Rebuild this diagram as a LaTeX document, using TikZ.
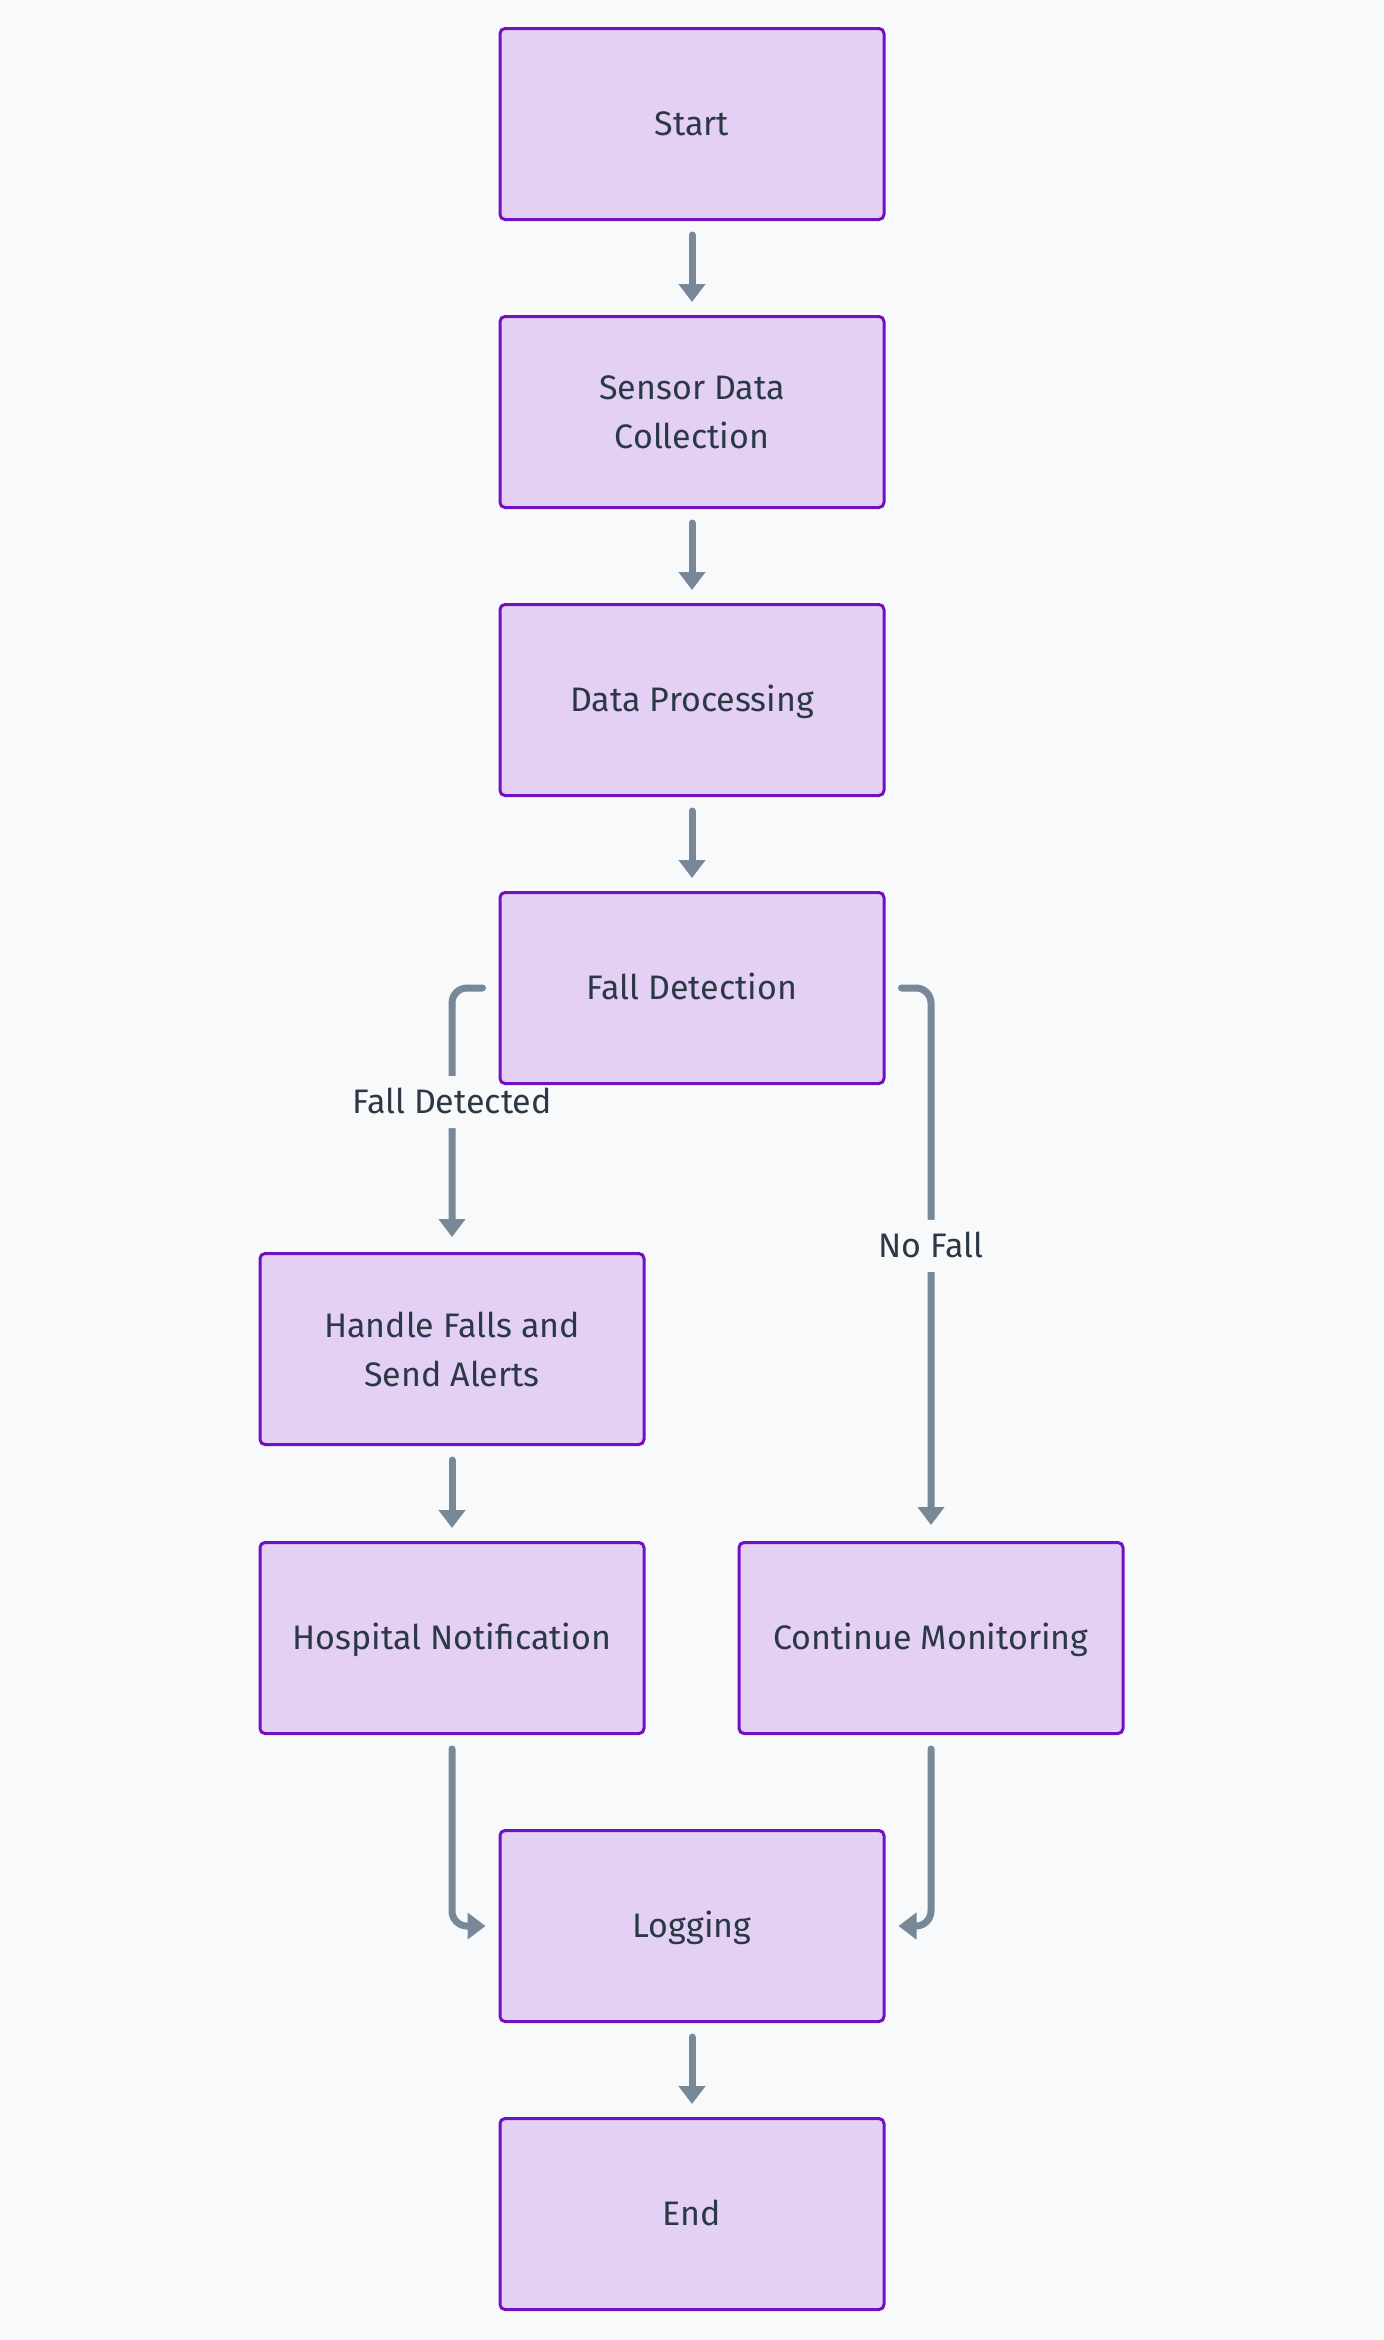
\documentclass[tikz,border=0pt]{standalone}
\usepackage{fontspec}
\setmainfont{Fira Sans}
\usetikzlibrary{arrows.meta}
\definecolor{bg}{HTML}{F8F9FB}
\definecolor{boxfill}{HTML}{E4D0F4}
\definecolor{boxdraw}{HTML}{7211BF}
\definecolor{arrowc}{HTML}{778899}
\definecolor{txt}{HTML}{2B3845}
\pgfdeclarelayer{background}
\pgfsetlayers{background,main}
\begin{document}
\begin{tikzpicture}[x=0.5pt,y=-0.5pt,
 box/.style={draw=boxdraw, fill=boxfill, line width=1.5pt, rounded corners=2.5pt,
   minimum width=192pt, minimum height=95.5pt, text=txt,
   font=\fontsize{17}{24.5}\selectfont, align=center, inner sep=0pt},
 one/.style={text height=11.8pt, text depth=0pt},
 arr/.style={draw=arrowc, line width=3.5pt, line cap=round,
   -{Triangle[width=13pt,length=9pt]}, rounded corners=7.5pt},
 lab/.style={fill=bg, text=txt, font=\fontsize{17}{24}\selectfont,
   inner xsep=1pt, inner ysep=0pt, minimum height=26pt, text height=11.8pt, text depth=0pt}]
\useasboundingbox (0,0) rectangle (1384,2340);

\node[box,one] (start) at (692,124) {Start};
\node[box] (sensor) at (692,412) {Sensor Data\\Collection};
\node[box,one] (proc) at (692,700) {Data Processing};
\node[box,one] (fd) at (692,988) {Fall Detection};
\node[box] (handle) at (452,1349) {Handle Falls and\\Send Alerts};
\node[box,one] (hosp) at (452,1638) {Hospital Notification};
\node[box,one] (cont) at (931,1638) {Continue Monitoring};
\node[box,one] (log) at (692,1926) {Logging};
\node[box,one] (end) at (692,2214) {End};

\begin{pgfonlayer}{background}
\fill[bg] (0,0) rectangle (1384,2340);
\draw[arr] ([yshift=-7pt]start.south) -- ([yshift=6.5pt]sensor.north);
\draw[arr] ([yshift=-7pt]sensor.south) -- ([yshift=6.5pt]proc.north);
\draw[arr] ([yshift=-7pt]proc.south) -- ([yshift=6.5pt]fd.north);
\draw[arr] ([xshift=-8pt]fd.west) -| ([yshift=7.5pt]handle.north)
   node[lab,pos=0.729] {Fall Detected};
\draw[arr] ([xshift=8pt]fd.east) -| ([yshift=8pt]cont.north)
   node[lab,pos=0.74] {No Fall};
\draw[arr] ([yshift=-7pt]handle.south) -- ([yshift=6.5pt]hosp.north);
\draw[arr] ([yshift=-7pt]hosp.south) |- ([xshift=-6.5pt]log.west);
\draw[arr] ([yshift=-7pt]cont.south) |- ([xshift=6.5pt]log.east);
\draw[arr] ([yshift=-7pt]log.south) -- ([yshift=6.5pt]end.north);
\end{pgfonlayer}
\end{tikzpicture}
\end{document}
